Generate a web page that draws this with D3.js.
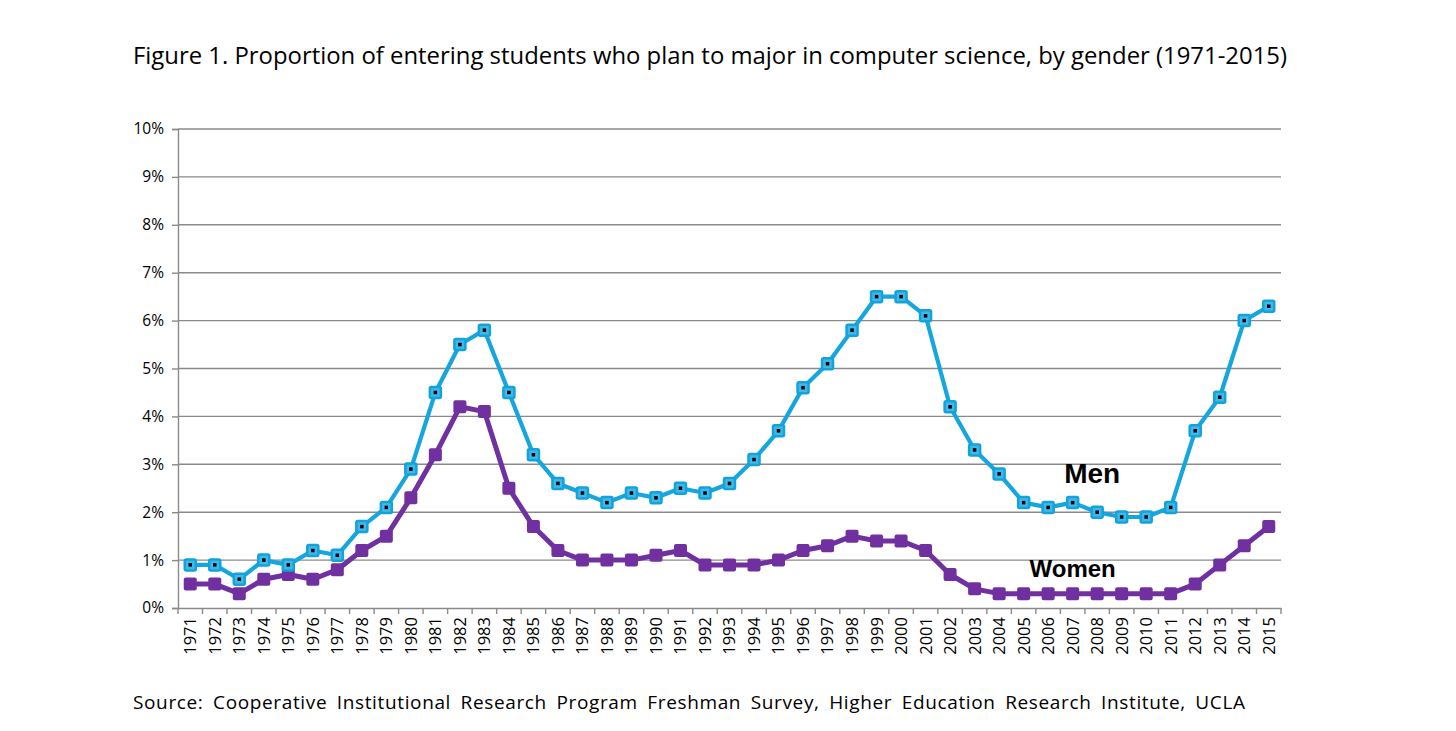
<!DOCTYPE html>
<html>
<head>
<meta charset="utf-8">
<script src="https://cdn.jsdelivr.net/npm/d3@7"></script>
<style>
  body { margin: 0; background: #fff; }
  text { font-family: "Open Sans", sans-serif; fill: #000; }
</style>
</head>
<body>
<div id="chart"></div>
<script>
var years = d3.range(1971, 2016).map(String);
var menValues = [0.9, 0.9, 0.6, 1.0, 0.9, 1.2, 1.1, 1.7, 2.1, 2.9,
  4.5, 5.5, 5.8, 4.5, 3.2, 2.6, 2.4, 2.2, 2.4, 2.3,
  2.5, 2.4, 2.6, 3.1, 3.7, 4.6, 5.1, 5.8, 6.5, 6.5,
  6.1, 4.2, 3.3, 2.8, 2.2, 2.1, 2.2, 2.0, 1.9, 1.9,
  2.1, 3.7, 4.4, 6.0, 6.3];
var womenValues = [0.5, 0.5, 0.3, 0.6, 0.7, 0.6, 0.8, 1.2, 1.5, 2.3,
  3.2, 4.2, 4.1, 2.5, 1.7, 1.2, 1.0, 1.0, 1.0, 1.1,
  1.2, 0.9, 0.9, 0.9, 1.0, 1.2, 1.3, 1.5, 1.4, 1.4,
  1.2, 0.7, 0.4, 0.3, 0.3, 0.3, 0.3, 0.3, 0.3, 0.3,
  0.3, 0.5, 0.9, 1.3, 1.7];
var yTicks = [0, 1, 2, 3, 4, 5, 6, 7, 8, 9, 10];

var W = 1456, H = 731;
var margin = { top: 129, right: 175, bottom: 123, left: 178 };
var width = W - margin.left - margin.right;
var height = H - margin.top - margin.bottom;

var svg = d3.select("#chart").append("svg")
  .attr("width", W).attr("height", H);

svg.append("text")
  .attr("x", 133).attr("y", 64)
  .attr("textLength", 1154).attr("lengthAdjust", "spacingAndGlyphs")
  .style("font-size", "23px")
  .text("Figure 1. Proportion of entering students who plan to major in computer science, by gender (1971-2015)");

svg.append("text")
  .attr("x", 133).attr("y", 709)
  .attr("textLength", 1112).attr("lengthAdjust", "spacing")
  .style("font-size", "19px")
  .style("word-spacing", "4px")
  .text("Source: Cooperative Institutional Research Program Freshman Survey, Higher Education Research Institute, UCLA");

var g = svg.append("g")
  .attr("transform", "translate(" + margin.left + "," + margin.top + ")");

var x = d3.scaleBand().domain(years).range([0, width]);
var y = d3.scaleLinear().domain([0, 10]).range([height, 0]);

// gridlines
g.append("g").selectAll("line")
  .data(yTicks.filter(d => d > 0))
  .enter().append("line")
  .attr("x1", 0).attr("x2", width)
  .attr("y1", d => y(d)).attr("y2", d => y(d))
  .attr("stroke", "#8a8a8a").attr("stroke-width", 1.4);

// y axis
var yAxis = g.append("g")
  .call(d3.axisLeft(y).tickValues(yTicks).tickFormat(d => d + "%").tickSize(6).tickPadding(8));
yAxis.select(".domain").attr("stroke", "#8a8a8a").attr("stroke-width", 1.4);
yAxis.selectAll(".tick line").attr("stroke", "#8a8a8a").attr("stroke-width", 1.4);
yAxis.selectAll("text").style("font-size", "15.5px").style("font-family", "Open Sans, sans-serif").attr("fill", "#000");

// x axis with ticks between categories
var xAxis = g.append("g")
  .attr("transform", "translate(0," + height + ")")
  .call(d3.axisBottom(x).tickSize(0).tickPadding(0));
xAxis.select(".domain").attr("stroke", "#8a8a8a").attr("stroke-width", 1.4);
xAxis.selectAll("text")
  .attr("transform", "rotate(-90)")
  .attr("x", -9).attr("y", 0).attr("dy", "0.36em")
  .style("text-anchor", "end")
  .style("font-size", "16.5px")
  .style("font-family", "Open Sans, sans-serif")
  .attr("fill", "#000");
g.append("g").selectAll("line")
  .data(years.concat(["end"]))
  .enter().append("line")
  .attr("x1", (d, i) => i * x.step()).attr("x2", (d, i) => i * x.step())
  .attr("y1", height).attr("y2", height + 6)
  .attr("stroke", "#8a8a8a").attr("stroke-width", 1.4);

var cx = d => x(d) + x.bandwidth() / 2;
var line = d3.line().x(d => cx(d[0])).y(d => y(d[1]));

var men = years.map((d, i) => [d, menValues[i]]);
var women = years.map((d, i) => [d, womenValues[i]]);

// women series
g.append("path").datum(women)
  .attr("d", line).attr("fill", "none")
  .attr("stroke", "#7030a0").attr("stroke-width", 5).attr("stroke-linejoin", "round");
g.append("g").selectAll("rect")
  .data(women).enter().append("rect")
  .attr("x", d => cx(d[0]) - 6.5).attr("y", d => y(d[1]) - 6.5)
  .attr("width", 13).attr("height", 13).attr("rx", 2)
  .attr("fill", "#7030a0");

// men series
g.append("path").datum(men)
  .attr("d", line).attr("fill", "none")
  .attr("stroke", "#16a6df").attr("stroke-width", 4.2).attr("stroke-linejoin", "round");
var mk = g.append("g").selectAll("g")
  .data(men).enter().append("g");
mk.append("rect")
  .attr("x", d => cx(d[0]) - 5.5).attr("y", d => y(d[1]) - 5.5)
  .attr("width", 11).attr("height", 11).attr("rx", 1.5)
  .attr("fill", "#40b8e8").attr("stroke", "#12a2dc").attr("stroke-width", 2.5);
mk.append("rect")
  .attr("x", d => cx(d[0]) - 1.75).attr("y", d => y(d[1]) - 1.75)
  .attr("width", 3.5).attr("height", 3.5)
  .attr("fill", "#000");

// series labels
g.append("text")
  .attr("x", cx("2008") - 5).attr("y", y(2.62))
  .attr("text-anchor", "middle")
  .style("font-family", "Liberation Sans, Arial, sans-serif")
  .style("font-weight", "bold").style("font-size", "28px")
  .text("Men");
g.append("text")
  .attr("x", cx("2007")).attr("y", y(0.65))
  .attr("text-anchor", "middle")
  .style("font-family", "Liberation Sans, Arial, sans-serif")
  .style("font-weight", "bold").style("font-size", "24px")
  .text("Women");
</script>
</body>
</html>
